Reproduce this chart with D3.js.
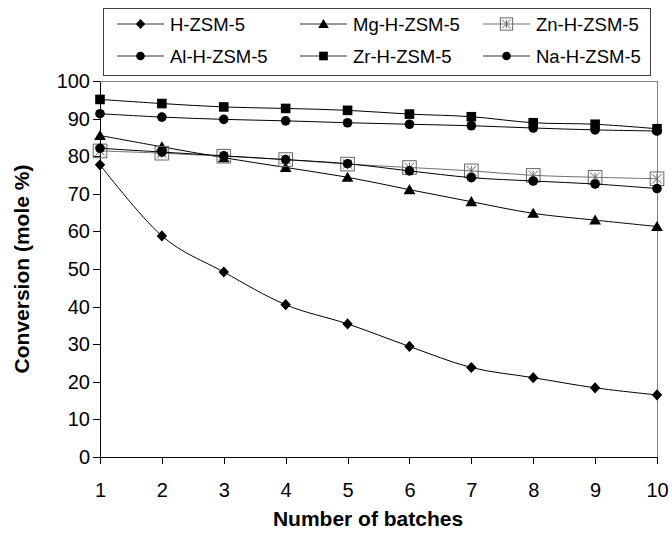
<!doctype html>
<html>
<head>
<meta charset="utf-8">
<title>Conversion vs batches</title>
<style>
    body { margin: 0; background: #fff; }
    svg { display: block; font-family: "Liberation Sans", Arial, sans-serif; }
    .axis path, .axis line { stroke: #000; shape-rendering: crispEdges; }
    .axis text { font-size: 20px; fill: #000; }
    .line { fill: none; stroke-width: 1px; }
</style>
</head>
<body>
<svg id="plot" width="672" height="544"></svg>
<script src="https://d3js.org/d3.v7.min.js"></script>
<script>
// values
const batches = [1, 2, 3, 4, 5, 6, 7, 8, 9, 10];
const yTicks = [0, 10, 20, 30, 40, 50, 60, 70, 80, 90, 100];
const hZsm  = [77.7, 58.8, 49.2, 40.5, 35.4, 29.4, 23.8, 21.1, 18.4, 16.5];
const mgZsm = [85.5, 82.5, 79.6, 77.0, 74.4, 71.1, 67.9, 64.8, 63.0, 61.3];
const znZsm = [81.4, 80.8, 80.0, 79.1, 77.9, 77.0, 76.1, 74.9, 74.4, 74.0];
const alZsm = [82.1, 81.1, 80.1, 79.1, 78.0, 76.1, 74.3, 73.4, 72.6, 71.4];
const zrZsm = [95.1, 94.0, 93.1, 92.7, 92.2, 91.2, 90.5, 88.9, 88.5, 87.3];
const naZsm = [91.3, 90.4, 89.8, 89.4, 88.9, 88.5, 88.1, 87.5, 87.0, 86.7];
const seriesNames = ["H-ZSM-5", "Mg-H-ZSM-5", "Zn-H-ZSM-5", "Al-H-ZSM-5", "Zr-H-ZSM-5", "Na-H-ZSM-5"];

let svg = d3.select("svg"),
    margin = {top: 81, right: 15, bottom: 87, left: 100},
    width = +svg.attr("width") - margin.left - margin.right,
    height = +svg.attr("height") - margin.top - margin.bottom,
    g = svg.append("g").attr("transform", "translate(" + margin.left + "," + margin.top + ")");

let x = d3.scaleLinear().domain([1, 10]).range([0, width]);
let y = d3.scaleLinear().domain([0, 100]).range([height, 0]);

// marker shapes, drawn centered on 0,0
function marker(sel, kind, s) {
    s = s || 1;
    if (kind === "diamond") {
        let w = 5.2 * s, h = 5.6 * s;
        sel.append("path").attr("d", "M0," + (-h) + "L" + w + ",0L0," + h + "L" + (-w) + ",0Z").attr("fill", "#000");
    } else if (kind === "triangle") {
        let h = 5.6 * s;
        sel.append("path").attr("d", "M0," + (-h) + "L" + (h * 1.05) + "," + (h * 0.8) + "L" + (-h * 1.05) + "," + (h * 0.8) + "Z").attr("fill", "#000");
    } else if (kind === "square") {
        let h = 4.8 * s;
        sel.append("rect").attr("x", -h).attr("y", -h).attr("width", 2 * h).attr("height", 2 * h).attr("fill", "#000");
    } else if (kind === "circle") {
        sel.append("circle").attr("r", 4.8 * s).attr("fill", "#000");
    } else if (kind === "starbox") {
        let h = 6.8 * s;
        sel.append("rect").attr("x", -h).attr("y", -h).attr("width", 2 * h).attr("height", 2 * h)
            .attr("fill", "none").attr("stroke", "#666").attr("stroke-width", 1);
        let k = h * 0.7;
        sel.append("path")
            .attr("d", "M" + (-k) + "," + (-k) + "L" + k + "," + k + "M" + k + "," + (-k) + "L" + (-k) + "," + k + "M0," + (-k) + "L0," + k)
            .attr("stroke", "#666").attr("stroke-width", 1);
    }
}

let series = [
    {name: seriesNames[0], values: hZsm,  mark: "diamond",  color: "#000"},
    {name: seriesNames[1], values: mgZsm, mark: "triangle", color: "#000"},
    {name: seriesNames[2], values: znZsm, mark: "starbox",  color: "#707070"},
    {name: seriesNames[3], values: alZsm, mark: "circle",   color: "#000"},
    {name: seriesNames[4], values: zrZsm, mark: "square",   color: "#000"},
    {name: seriesNames[5], values: naZsm, mark: "circle",   color: "#000"}
];

// plot area border (top and right, gray)
g.append("path")
    .attr("d", "M-7,0.5H" + (width + 0.5) + "V" + height)
    .attr("fill", "none").attr("stroke", "#808080").attr("shape-rendering", "crispEdges");

let xAxis = g.append("g")
    .attr("class", "axis axis--x")
    .attr("transform", "translate(0," + height + ")")
    .call(d3.axisBottom(x).tickValues(batches).tickFormat(d3.format("d")).tickSize(7).tickSizeOuter(0));
// labels sit well below the ticks, as in the original
xAxis.selectAll(".tick text").attr("y", 33).attr("dy", "0.35em");

g.append("g")
    .attr("class", "axis axis--y")
    .call(d3.axisLeft(y).tickValues(yTicks).tickSize(7).tickSizeOuter(0).tickPadding(3));

g.select(".axis--x .domain").attr("d", "M-7,0.5H" + width);

let line = d3.line()
    .x(function(d, i) { return x(batches[i]); })
    .y(function(d) { return y(d); })
    .curve(d3.curveCatmullRom.alpha(0));

for (const s of series) {
    g.append("path")
        .datum(s.values)
        .attr("class", "line")
        .attr("stroke", s.color)
        .attr("d", line);
    s.values.forEach(function(v, i) {
        let m = g.append("g").attr("transform", "translate(" + x(batches[i]) + "," + y(v) + ")");
        marker(m, s.mark, 1);
    });
}

// axis titles
svg.append("text")
    .attr("x", 368)
    .attr("y", 519)
    .attr("dy", "0.35em")
    .attr("text-anchor", "middle")
    .style("font-size", "21px").style("font-weight", "bold")
    .text("Number of batches");

svg.append("text")
    .attr("transform", "translate(22," + (margin.top + height / 2) + ") rotate(-90)")
    .attr("dy", "0.35em")
    .attr("text-anchor", "middle")
    .style("font-size", "21px").style("font-weight", "bold")
    .text("Conversion (mole %)");

// legend
let legend = svg.append("g");
legend.append("rect")
    .attr("x", 103.5).attr("y", 8.5).attr("width", 547).attr("height", 67)
    .attr("fill", "#fff").attr("stroke", "#404040");

const colX = [117, 300, 483];
const rowY = [24, 56];
series.forEach(function(s, i) {
    let cx = colX[i % 3], cy = rowY[Math.floor(i / 3)];
    legend.append("line")
        .attr("x1", cx).attr("x2", cx + 47).attr("y1", cy).attr("y2", cy)
        .attr("stroke", s.color === "#000" ? "#333" : s.color);
    let m = legend.append("g").attr("transform", "translate(" + (cx + 23.5) + "," + cy + ")");
    marker(m, s.mark, 0.9);
    legend.append("text")
        .attr("x", cx + 53).attr("y", cy)
        .attr("dy", "0.36em")
        .style("font-size", "18.5px")
        .text(s.name);
});
</script>
</body>
</html>
